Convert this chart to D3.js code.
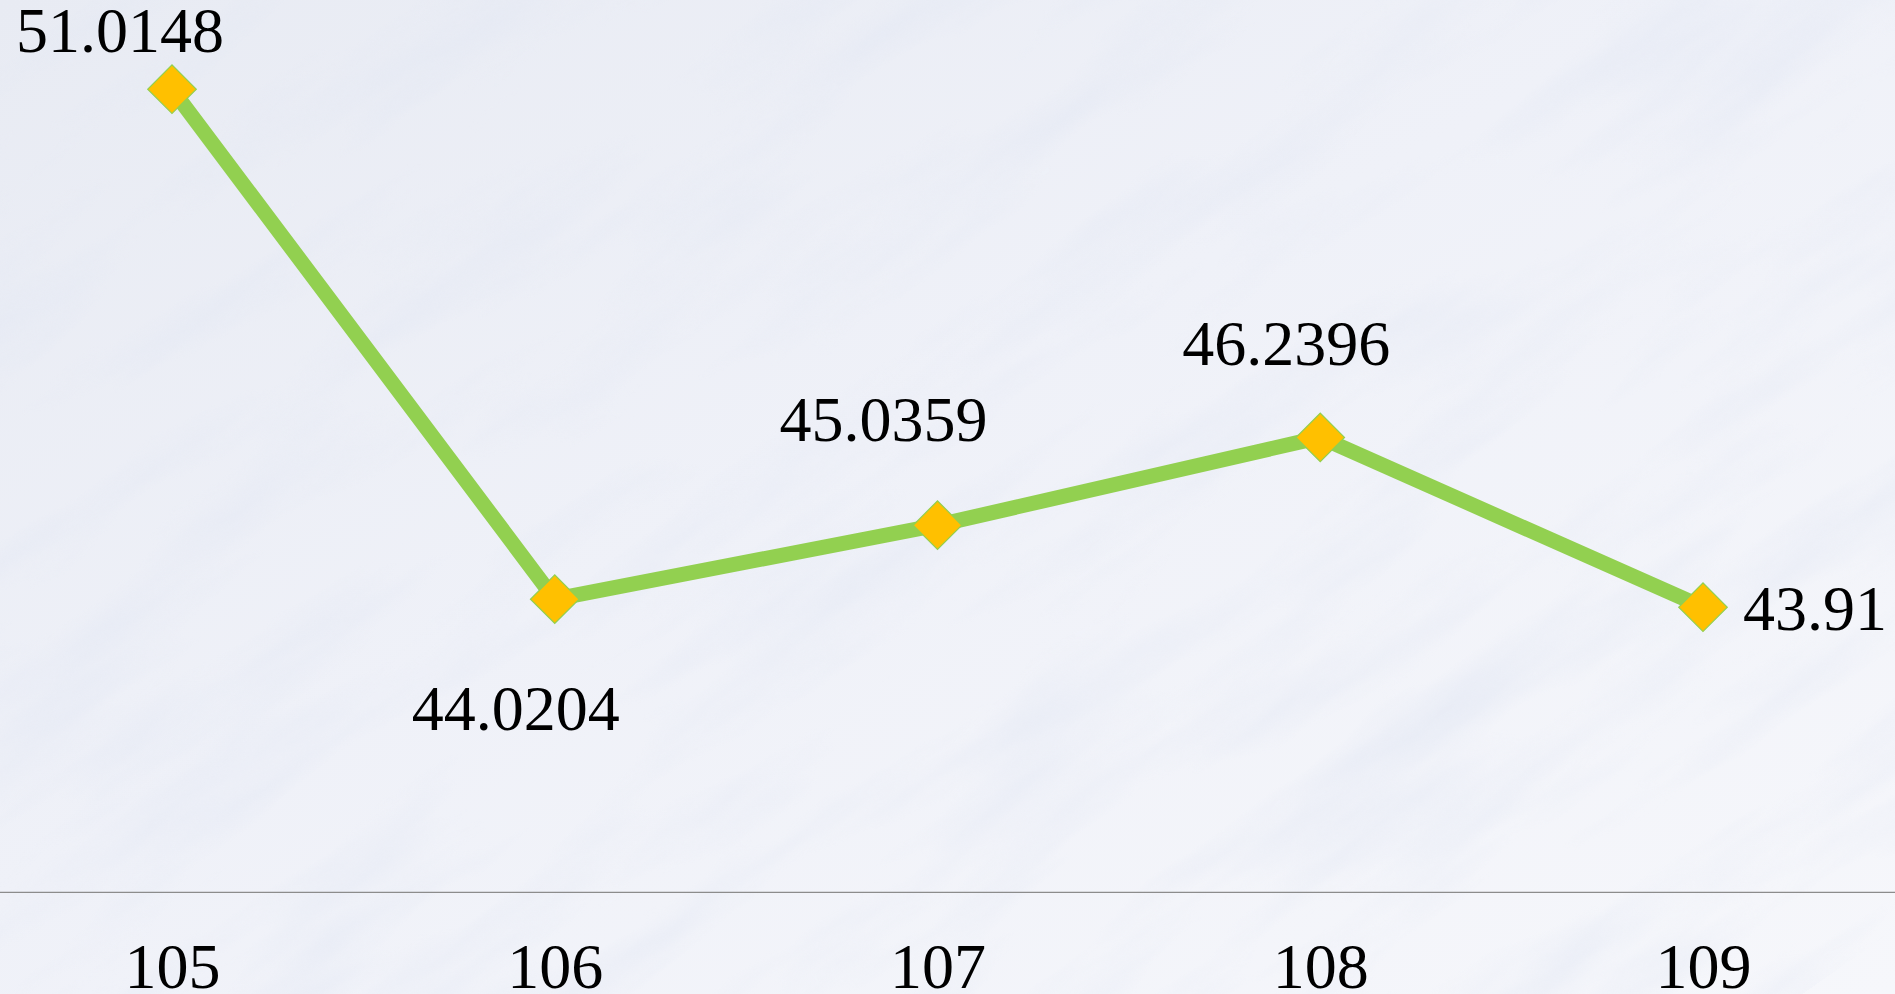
<!DOCTYPE html>
<html>
<head>
<meta charset="utf-8">
<script src="https://cdn.jsdelivr.net/npm/d3@7/dist/d3.min.js"></script>
<style>
  html, body { margin: 0; padding: 0; overflow: hidden; background: #eef1f7; }
  svg { display: block; }
</style>
</head>
<body>
<svg id="chart" width="1895" height="994"></svg>
<script>
// ---- data ----
const categories = ["105", "106", "107", "108", "109"];
const values = [51.0148, 44.0204, 45.0359, 46.2396, 43.91];
const valueLabels = ["51.0148", "44.0204", "45.0359", "46.2396", "43.91"];

// ---- label placement (styling, not data) ----
const labelDx = [-52, -39, -54, -34, 40];
const labelDy = [-37, 131, -84, -72, 23];
const labelAnchor = ["middle", "middle", "middle", "middle", "start"];

const W = 1895, H = 994;
const svg = d3.select("#chart");
const defs = svg.append("defs");

// marble-like background
const lg = defs.append("linearGradient").attr("id", "bg")
  .attr("x1", "0").attr("y1", "0").attr("x2", "1").attr("y2", "1");
lg.append("stop").attr("offset", "0").attr("stop-color", "#e8ebf3");
lg.append("stop").attr("offset", "0.45").attr("stop-color", "#eff1f8");
lg.append("stop").attr("offset", "1").attr("stop-color", "#f6f7fb");
svg.append("rect").attr("width", W).attr("height", H).attr("fill", "url(#bg)");

const f = defs.append("filter").attr("id", "marble")
  .attr("x", 0).attr("y", 0).attr("width", 1).attr("height", 1);
f.append("feTurbulence").attr("type", "fractalNoise")
  .attr("baseFrequency", "0.003 0.014").attr("numOctaves", 4).attr("seed", 7).attr("result", "n");
f.append("feColorMatrix").attr("in", "n").attr("type", "matrix")
  .attr("values", "0 0 0 0 0.76  0 0 0 0 0.80  0 0 0 0 0.90  2.2 0 0 0 -1.0");
const tex = svg.append("g").attr("opacity", 0.55);
tex.append("rect").attr("x", -400).attr("y", -400).attr("width", W + 800).attr("height", H + 800)
  .attr("filter", "url(#marble)")
  .attr("transform", `rotate(-35 ${W / 2} ${H / 2})`);

// ---- scales ----
const x = d3.scalePoint().domain(categories).range([172, 1703]);
const y = d3.scaleLinear().domain([40, 52]).range([892.3, 17.4]);

// axis line + labels
const axis = d3.axisBottom(x).tickSize(0).tickPadding(0);
const gx = svg.append("g").attr("transform", `translate(0,${y(40)})`).call(axis);
gx.select(".domain").remove();
svg.append("line").attr("x1", 0).attr("x2", W).attr("y1", y(40)).attr("y2", y(40))
  .attr("stroke", "#8c8c8c").attr("stroke-width", 1.3);
gx.selectAll(".tick text")
  .attr("y", 96).attr("dy", null)
  .attr("font-family", "'Liberation Serif', 'Times New Roman', serif")
  .attr("font-size", 64).attr("fill", "#000");

const data = categories.map((c, i) => ({ c, v: values[i], i }));

// line
const line = d3.line().x(d => x(d.c)).y(d => y(d.v));
svg.append("path").datum(data).attr("d", line)
  .attr("fill", "none").attr("stroke", "#92D050").attr("stroke-width", 15)
  .attr("stroke-linejoin", "round");

// markers (diamonds)
const sym = d3.symbol().type(d3.symbolSquare).size(1180);
svg.selectAll(".mk").data(data).join("path")
  .attr("class", "mk")
  .attr("d", sym)
  .attr("transform", d => `translate(${x(d.c)},${y(d.v)}) rotate(45)`)
  .attr("fill", "#FFC000").attr("stroke", "#92D050").attr("stroke-width", 1.2);

// value labels
svg.selectAll(".vl").data(data).join("text")
  .attr("class", "vl")
  .attr("x", d => x(d.c) + labelDx[d.i])
  .attr("y", d => y(d.v) + labelDy[d.i])
  .attr("text-anchor", d => labelAnchor[d.i])
  .attr("font-family", "'Liberation Serif', 'Times New Roman', serif")
  .attr("font-size", 64).attr("fill", "#000")
  .text(d => valueLabels[d.i]);
</script>
</body>
</html>
